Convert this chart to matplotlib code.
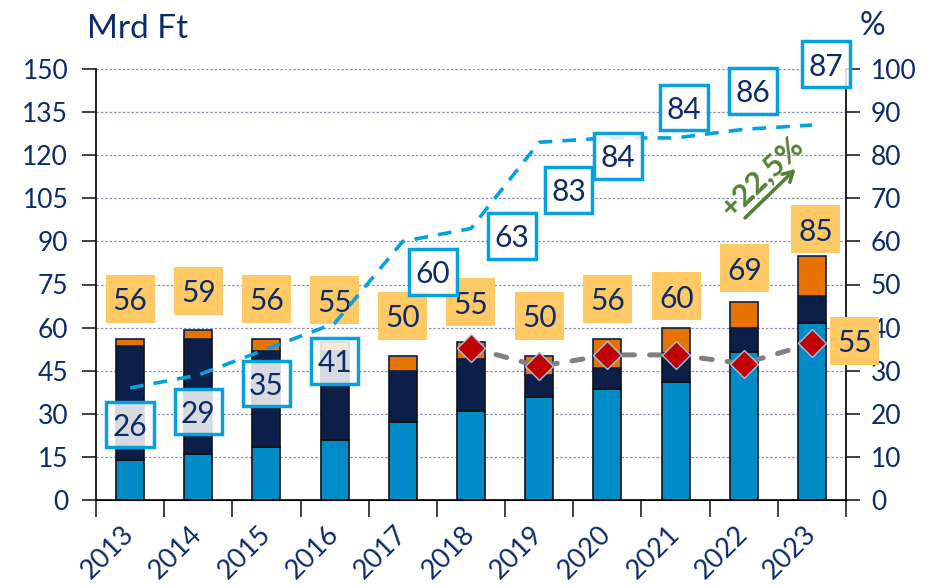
import numpy as np
import matplotlib.pyplot as plt
from matplotlib.path import Path

plt.rcParams['font.family'] = ['Lato', 'DejaVu Sans']

years = ['2013', '2014', '2015', '2016', '2017', '2018', '2019', '2020', '2021', '2022', '2023']
light = [14, 16, 18.5, 21, 27, 31, 36, 38.5, 41, 51.5, 61.5]   # Mrd Ft
dark = [39.5, 40, 33.5, 31, 18, 18, 7.5, 7.5, 10, 8.5, 9.5]
orange = [2.5, 3, 4, 3, 5, 6, 6.5, 10, 9, 9, 14]
totals = [56, 59, 56, 55, 50, 55, 50, 56, 60, 69, 85]
share = [26, 29, 35, 41, 60, 63, 83, 84, 84, 86, 87]          # %
grey_years = ['2018', '2019', '2020', '2021', '2022', '2023']
grey_vals = [53, 46.5, 50.5, 50.5, 47.5, 54.5]                # Mrd Ft
grey_last_label = 55

NAVY_TXT = '#0d2b6b'
C_LIGHT = '#008bc6'
C_DARK = '#0c1f48'
C_ORANGE = '#e67300'
C_OBOX = '#ffc965'
C_BLUE = '#05a0de'
C_GREEN = '#548235'


def fixed_box(w, h, up=2.5):
    # rectangle of fixed pixel size centred on the text
    def box(x0, y0, width, height, mutation_size):
        cx = x0 + width / 2
        cy = y0 + height / 2 + up
        return Path([(cx - w / 2, cy - h / 2), (cx + w / 2, cy - h / 2),
                     (cx + w / 2, cy + h / 2), (cx - w / 2, cy + h / 2),
                     (cx - w / 2, cy - h / 2)], closed=True)
    return box


fig = plt.figure(figsize=(9.28, 5.86), dpi=100)
ax = fig.add_axes([96 / 928, 1 - 500 / 586, 750 / 928, 431 / 586])
ax2 = ax.twinx()

x = np.arange(len(years))
bot2 = [a + b for a, b in zip(light, dark)]
ax.bar(x, light, width=0.41, color=C_LIGHT, edgecolor='#111111', lw=1.2, zorder=2)
ax.bar(x, dark, bottom=light, width=0.41, color=C_DARK, edgecolor='#111111', lw=1.2, zorder=2)
ax.bar(x, orange, bottom=bot2, width=0.41, color=C_ORANGE, edgecolor=C_DARK, lw=1.2, zorder=2)

ax.set_xlim(-0.5, len(years) - 0.5)
ax.set_ylim(0, 150)
ax2.set_ylim(0, 100)
ax.set_yticks(np.arange(0, 151, 15))
ax2.set_yticks(np.arange(0, 101, 10))

ax.grid(axis='y', color='#8c90a8', lw=0.9, ls=(0, (2, 1.5)))
ax.set_axisbelow(True)

ax.spines['top'].set_visible(False)
ax2.spines['top'].set_visible(False)
ax2.spines['left'].set_visible(False)
ax.spines['right'].set_visible(False)
for sp in [ax.spines['left'], ax.spines['bottom'], ax2.spines['right']]:
    sp.set_linewidth(1.3)
    sp.set_color('#111111')

ax.tick_params(axis='y', length=10, width=1.3, color='#333333', labelsize=19, labelcolor=NAVY_TXT, pad=10)
ax2.tick_params(axis='y', length=10, width=1.3, color='#333333', labelsize=19, labelcolor=NAVY_TXT, pad=8)

ax.set_xticks(x)
ax.set_xticklabels(years, rotation=45, ha='right', va='center', rotation_mode='anchor',
                   fontsize=19.5, color=NAVY_TXT)
ax.tick_params(axis='x', which='major', length=0, pad=22)
ax.set_xticks(np.arange(-0.5, len(years), 1), minor=True)
ax.tick_params(axis='x', which='minor', length=12, width=1.3, color='#333333')

# total labels (orange boxes)
tot_dy = [38, 37, 38, 39, 38, 37, 38, 38, 29, 31, 24]
tot_dx = [0, 0, 0, 0, 0, 0, 0, 0, 1, 1, 4]
for i, t in enumerate(totals):
    ax.annotate(str(t), (x[i], t), xytext=(tot_dx[i], tot_dy[i]), textcoords='offset pixels',
                ha='center', va='center', fontsize=21.5, color=NAVY_TXT, zorder=3,
                bbox=dict(boxstyle=fixed_box(49, 48), fc=C_OBOX, ec='none'))

# share line (right axis)
ax2.plot(x, share, color=C_BLUE, lw=2.6, dashes=(3.8, 2.8), zorder=4)
sh_off = [(0, -39), (0, -39), (0, -37), (0, -40), (30, -33), (41, -10),
          (29.5, -50), (10.5, -20.5), (8.5, 28), (9.5, 36), (14, 58.5)]
for i, v in enumerate(share):
    ax2.annotate(str(v), (x[i], v), xytext=sh_off[i], textcoords='offset pixels',
                 ha='center', va='center', fontsize=21.5, color=NAVY_TXT, zorder=6,
                 bbox=dict(boxstyle=fixed_box(47.5, 45.5), fc=(1, 1, 1, 0.84),
                           ec=C_BLUE, lw=2.5))

# grey line with diamonds (left axis values, drawn on top axes)
gx = [years.index(y) for y in grey_years]
gv2 = [v * 100 / 150 for v in grey_vals]
ax2.plot(gx, gv2, color='#808080', lw=3.6, dashes=(2.2, 3), dash_capstyle='round', zorder=5,
         marker='D', ms=14, mfc='#c00000', mec='#9dc3e6', mew=1)
ax2.annotate(str(grey_last_label), (gx[-1], gv2[-1]), xytext=(43, 0), textcoords='offset pixels',
             ha='center', va='center', fontsize=21.5, color=NAVY_TXT, zorder=6,
             bbox=dict(boxstyle=fixed_box(49, 48), fc=C_OBOX, ec='none'))

# growth arrow
ax.annotate('', xy=(9.79, 115.9), xytext=(8.99, 97.5),
            arrowprops=dict(arrowstyle='->,head_length=0.7,head_width=0.4', color=C_GREEN, lw=2.6))
ax.text(9.27, 112.6, '+22,5%', rotation=44, ha='center', va='center', fontsize=22,
        fontweight='bold', color=C_GREEN, rotation_mode='anchor')

fig.text(87 / 928, 1 - 38 / 586, 'Mrd Ft', fontsize=24, color=NAVY_TXT, va='baseline')
fig.text(860 / 928, 1 - 35 / 586, '%', fontsize=23, color=NAVY_TXT, va='baseline')

fig.savefig('out.png', dpi=100)
